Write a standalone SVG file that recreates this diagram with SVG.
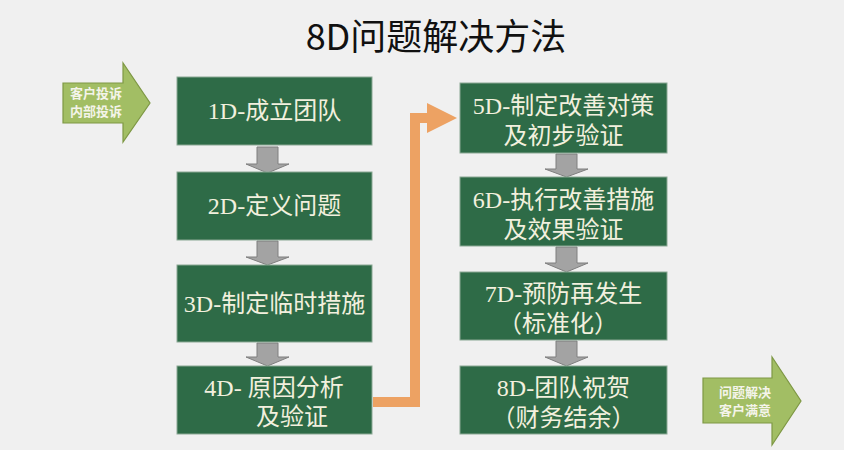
<svg xmlns="http://www.w3.org/2000/svg" width="844" height="450" viewBox="0 0 844 450">
<style>
.box{fill:#2E6B47;stroke:#8aa894;stroke-width:1}
.bt{font-family:"Liberation Serif","Noto Sans CJK SC",serif;font-size:24px;fill:#F2F0DE;text-anchor:middle}
.at{font-family:"Liberation Serif","Noto Sans CJK SC",serif;font-size:13px;font-weight:bold;fill:#F4F4EA;text-anchor:middle}
.ga{fill:#A3A3A3;stroke:#7f7f7f;stroke-width:1}
.big{fill:#A2BE64;stroke:#7E9844;stroke-width:1.2}
</style>
<rect x="0" y="0" width="844" height="450" fill="#F0F0F0"/>
<text x="436" y="50" font-family="'Noto Sans CJK SC','Noto Sans',sans-serif" font-size="36" fill="#111" text-anchor="middle">8D问题解决方法</text>

<g id="connectors">
<path class="ga" d="M257,147 H278 V164 H289 L267.5,173 L246,164 H257 Z"/>
<path class="ga" d="M257,241 H278 V257 H289 L267.5,265 L246,257 H257 Z"/>
<path class="ga" d="M257,343 H278 V357 H289 L267.5,366 L246,357 H257 Z"/>
<path class="ga" d="M556,154 H577 V169 H588 L566.5,177 L545,169 H556 Z"/>
<path class="ga" d="M556,247 H577 V263 H588 L566.5,272 L545,263 H556 Z"/>
<path class="ga" d="M556,341 H577 V357 H588 L566.5,366 L545,357 H556 Z"/>
<path d="M373,402 H415 V118 H430" fill="none" stroke="#EDA263" stroke-width="10"/>
<polygon points="427,103 457,118 427,133" fill="#EDA263"/>
</g>

<g id="input">
<path class="big" d="M63,83 H123 V63 L150,103 L123,142 V123 H63 Z"/>
<text class="at" x="96" y="98">客户投诉</text>
<text class="at" x="96" y="116">内部投诉</text>
</g>

<g id="output">
<path class="big" d="M703,378 H772 V357 L801,401 L772,445 V423 H703 Z"/>
<text class="at" x="745" y="397">问题解决</text>
<text class="at" x="745" y="415">客户满意</text>
</g>

<g id="d1"><rect class="box" x="177" y="77" width="195" height="68"/><text class="bt" x="274.5" y="119">1D-成立团队</text></g>
<g id="d2"><rect class="box" x="177" y="172" width="195" height="68"/><text class="bt" x="274.5" y="214">2D-定义问题</text></g>
<g id="d3"><rect class="box" x="177" y="265" width="195" height="77"/><text class="bt" x="274.5" y="312">3D-制定临时措施</text></g>
<g id="d4"><rect class="box" x="177" y="366" width="195" height="68"/><text class="bt" x="274" y="396">4D- 原因分析</text><text class="bt" x="292" y="425">及验证</text></g>
<g id="d5"><rect class="box" x="460" y="83" width="207" height="70"/><text class="bt" x="563.5" y="114">5D-制定改善对策</text><text class="bt" x="563.5" y="144">及初步验证</text></g>
<g id="d6"><rect class="box" x="460" y="177" width="207" height="69"/><text class="bt" x="563.5" y="208">6D-执行改善措施</text><text class="bt" x="563.5" y="238">及效果验证</text></g>
<g id="d7"><rect class="box" x="460" y="272" width="207" height="68"/><text class="bt" x="563.5" y="302">7D-预防再发生</text><text class="bt" x="558" y="332">（标准化）</text></g>
<g id="d8"><rect class="box" x="460" y="366" width="207" height="68"/><text class="bt" x="563.5" y="396">8D-团队祝贺</text><text class="bt" x="563.5" y="426">（财务结余）</text></g>
</svg>
